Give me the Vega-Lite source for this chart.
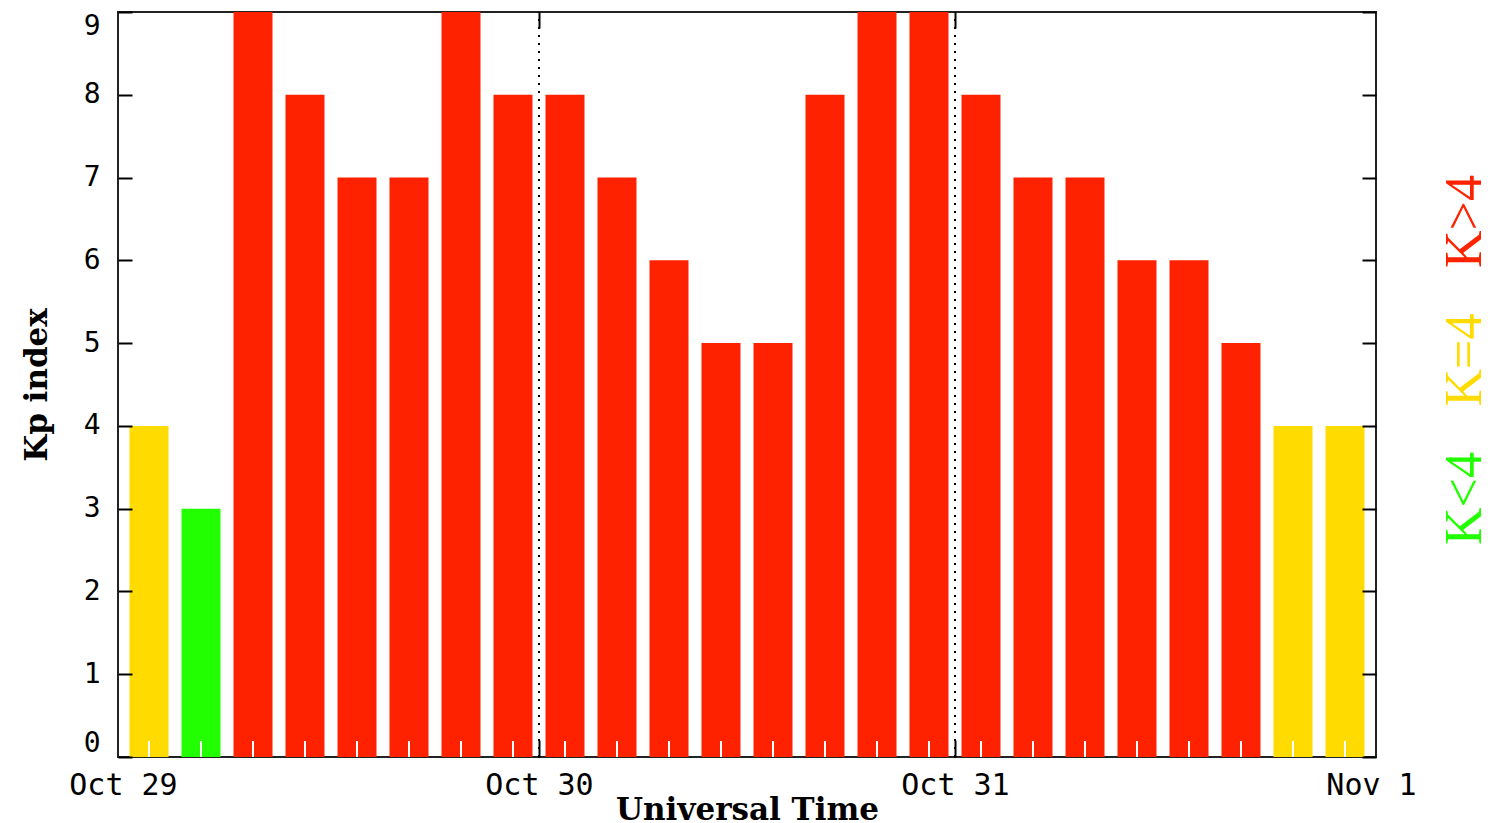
{
  "$schema": "https://vega.github.io/schema/vega-lite/v6.json",
  "width": 1258,
  "height": 745,
  "autosize": {"type": "none"},
  "padding": {"left": 118, "top": 12, "right": 125, "bottom": 66},
  "background": "white",
  "config": {
    "view": {"stroke": "#222", "strokeWidth": 2}
  },
  "datasets": {
    "kp": [
      {"time": "2003-10-29T01:30:00Z", "kp": 4, "level": "K=4"},
      {"time": "2003-10-29T04:30:00Z", "kp": 3, "level": "K<4"},
      {"time": "2003-10-29T07:30:00Z", "kp": 9, "level": "K>4"},
      {"time": "2003-10-29T10:30:00Z", "kp": 8, "level": "K>4"},
      {"time": "2003-10-29T13:30:00Z", "kp": 7, "level": "K>4"},
      {"time": "2003-10-29T16:30:00Z", "kp": 7, "level": "K>4"},
      {"time": "2003-10-29T19:30:00Z", "kp": 9, "level": "K>4"},
      {"time": "2003-10-29T22:30:00Z", "kp": 8, "level": "K>4"},
      {"time": "2003-10-30T01:30:00Z", "kp": 8, "level": "K>4"},
      {"time": "2003-10-30T04:30:00Z", "kp": 7, "level": "K>4"},
      {"time": "2003-10-30T07:30:00Z", "kp": 6, "level": "K>4"},
      {"time": "2003-10-30T10:30:00Z", "kp": 5, "level": "K>4"},
      {"time": "2003-10-30T13:30:00Z", "kp": 5, "level": "K>4"},
      {"time": "2003-10-30T16:30:00Z", "kp": 8, "level": "K>4"},
      {"time": "2003-10-30T19:30:00Z", "kp": 9, "level": "K>4"},
      {"time": "2003-10-30T22:30:00Z", "kp": 9, "level": "K>4"},
      {"time": "2003-10-31T01:30:00Z", "kp": 8, "level": "K>4"},
      {"time": "2003-10-31T04:30:00Z", "kp": 7, "level": "K>4"},
      {"time": "2003-10-31T07:30:00Z", "kp": 7, "level": "K>4"},
      {"time": "2003-10-31T10:30:00Z", "kp": 6, "level": "K>4"},
      {"time": "2003-10-31T13:30:00Z", "kp": 6, "level": "K>4"},
      {"time": "2003-10-31T16:30:00Z", "kp": 5, "level": "K>4"},
      {"time": "2003-10-31T19:30:00Z", "kp": 4, "level": "K=4"},
      {"time": "2003-10-31T22:30:00Z", "kp": 4, "level": "K=4"}
    ],
    "days": [
      {"day": "2003-10-30T00:00:00Z"},
      {"day": "2003-10-31T00:00:00Z"}
    ],
    "legend": [
      {"level": "K>4"},
      {"level": "K=4"},
      {"level": "K<4"}
    ]
  },
  "layer": [
    {
      "data": {"name": "kp"},
      "mark": {"type": "bar", "width": 39},
      "encoding": {
        "x": {
          "field": "time",
          "type": "temporal",
          "scale": {
            "type": "utc",
            "nice": false,
            "domain": [
              {"year": 2003, "month": "oct", "date": 29, "utc": true},
              {"year": 2003, "month": "nov", "date": 1, "utc": true}
            ]
          },
          "axis": {
            "orient": "bottom",
            "values": [
              {"year": 2003, "month": "oct", "date": 29, "utc": true},
              {"year": 2003, "month": "oct", "date": 30, "utc": true},
              {"year": 2003, "month": "oct", "date": 31, "utc": true},
              {"year": 2003, "month": "nov", "date": 1, "utc": true}
            ],
            "labelExpr": "utcFormat(datum.value, '%b %-d')",
            "tickSize": -17,
            "tickWidth": 2,
            "tickColor": "#000",
            "tickOpacity": {"condition": {"test": "datum.index > 0 && datum.index < 1", "value": 1}, "value": 0},
            "domain": false,
            "grid": false,
            "labelFlush": false,
            "labelOverlap": false,
            "labelPadding": 30,
            "labelFont": "DejaVu Sans Mono",
            "labelFontSize": 30,
            "labelColor": "#000",
            "title": "Universal Time",
            "titleFont": "DejaVu Serif",
            "titleFontSize": 31,
            "titleFontWeight": "bold",
            "titleColor": "#000",
            "titlePadding": -5,
            "zindex": 1
          }
        },
        "y": {
          "field": "kp",
          "type": "quantitative",
          "scale": {"domain": [0, 9], "nice": false},
          "axis": {
            "orient": "left",
            "values": [0, 1, 2, 3, 4, 5, 6, 7, 8, 9],
            "tickSize": -14,
            "tickWidth": 2,
            "tickColor": "#000",
            "domain": false,
            "grid": false,
            "labelFlush": true,
            "labelPadding": 32,
            "labelFont": "DejaVu Sans Mono",
            "labelFontSize": 28,
            "labelColor": "#000",
            "title": "Kp index",
            "titleFont": "DejaVu Serif",
            "titleFontSize": 31,
            "titleFontWeight": "bold",
            "titleColor": "#000",
            "titlePadding": 30,
            "zindex": 1
          }
        },
        "color": {
          "field": "level",
          "type": "nominal",
          "scale": {"domain": ["K<4", "K=4", "K>4"], "range": ["#22ff00", "#ffdb00", "#ff2200"]},
          "legend": null
        }
      }
    },
    {
      "data": {"name": "kp"},
      "mark": {"type": "rule", "color": "white", "strokeWidth": 2, "y2Offset": -16},
      "encoding": {
        "x": {
          "field": "time",
          "type": "temporal",
          "axis": {
            "orient": "top",
            "values": [
              {"year": 2003, "month": "oct", "date": 30, "utc": true},
              {"year": 2003, "month": "oct", "date": 31, "utc": true}
            ],
            "tickSize": -16,
            "tickWidth": 2,
            "tickColor": "#000",
            "labels": false,
            "domain": false,
            "grid": false,
            "title": null,
            "zindex": 1
          }
        },
        "y": {
          "datum": 0,
          "type": "quantitative",
          "scale": {"domain": [0, 9], "nice": false},
          "axis": {
            "orient": "right",
            "values": [0, 1, 2, 3, 4, 5, 6, 7, 8, 9],
            "tickSize": -14,
            "tickWidth": 2,
            "tickColor": "#000",
            "labels": false,
            "domain": false,
            "grid": false,
            "title": null,
            "zindex": 1
          }
        },
        "y2": {"datum": 0}
      }
    },
    {
      "data": {"name": "days"},
      "mark": {"type": "rule", "color": "#000", "strokeWidth": 2, "strokeDash": [2, 6]},
      "encoding": {
        "x": {"field": "day", "type": "temporal", "axis": null},
        "y": {"datum": 0, "type": "quantitative", "scale": {"domain": [0, 9], "nice": false}, "axis": null},
        "y2": {"datum": 9}
      }
    },
    {
      "data": {"name": "legend"},
      "mark": {"type": "text", "angle": 270, "align": "left", "baseline": "alphabetic", "font": "Liberation Serif", "fontSize": 52},
      "encoding": {
        "text": {"field": "level"},
        "color": {
          "field": "level",
          "type": "nominal",
          "scale": {"domain": ["K<4", "K=4", "K>4"], "range": ["#22ff00", "#ffdb00", "#ff2200"]},
          "legend": null
        },
        "y": {
          "field": "level",
          "type": "nominal",
          "scale": {"type": "point", "domain": ["K>4", "K=4", "K<4"], "range": [256, 533], "padding": 0},
          "axis": null
        },
        "x": {
          "datum": {"year": 2003, "month": "nov", "date": 1, "hours": 6, "minutes": 20, "utc": true},
          "type": "temporal",
          "axis": null
        }
      }
    }
  ],
  "resolve": {
    "scale": {"y": "independent"},
    "axis": {"x": "independent", "y": "independent"}
  }
}
